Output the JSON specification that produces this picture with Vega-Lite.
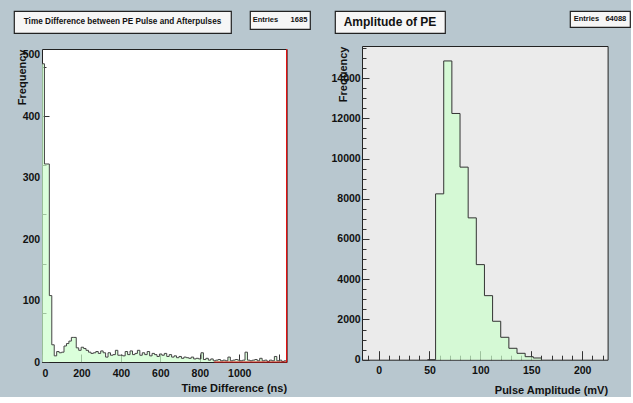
{
  "$schema": "https://vega.github.io/schema/vega-lite/v6.json",
  "background": "#b8c7cf",
  "padding": {"left": 13, "top": 10, "right": 0, "bottom": 0},
  "spacing": 20,
  "config": {
    "font": "Liberation Sans",
    "view": {"stroke": "#222"},
    "axis": {
      "labelFont": "Liberation Sans", "labelFontWeight": "bold", "labelFontSize": 10.5, "labelColor": "#111",
      "titleFont": "Liberation Sans", "titleFontWeight": "bold", "titleFontSize": 11, "titleColor": "#111",
      "tickColor": "#333", "grid": false, "domain": false, "labelOverlap": false, "minExtent": 0
    }
  },
  "datasets": {
    "timeHist": [
      {"lo": 0, "count": 485}, {"lo": 12.4, "count": 322}, {"lo": 24.8, "count": 322}, {"lo": 37.2, "count": 108},
      {"lo": 49.6, "count": 28}, {"lo": 62, "count": 10}, {"lo": 74.4, "count": 17}, {"lo": 86.8, "count": 15},
      {"lo": 99.2, "count": 16}, {"lo": 111.6, "count": 26}, {"lo": 124, "count": 30}, {"lo": 136.4, "count": 34},
      {"lo": 148.8, "count": 40}, {"lo": 161.2, "count": 40}, {"lo": 173.6, "count": 23}, {"lo": 186, "count": 19},
      {"lo": 198.4, "count": 24}, {"lo": 210.8, "count": 22}, {"lo": 223.2, "count": 19}, {"lo": 235.6, "count": 16},
      {"lo": 248, "count": 14}, {"lo": 260.4, "count": 15}, {"lo": 272.8, "count": 17}, {"lo": 285.2, "count": 14},
      {"lo": 297.6, "count": 18}, {"lo": 310, "count": 15}, {"lo": 322.4, "count": 8}, {"lo": 334.8, "count": 15},
      {"lo": 347.2, "count": 11}, {"lo": 359.6, "count": 12}, {"lo": 372, "count": 19}, {"lo": 384.4, "count": 11},
      {"lo": 396.8, "count": 11}, {"lo": 409.2, "count": 10}, {"lo": 421.6, "count": 17}, {"lo": 434, "count": 12},
      {"lo": 446.4, "count": 18}, {"lo": 458.8, "count": 12}, {"lo": 471.2, "count": 14}, {"lo": 483.6, "count": 19},
      {"lo": 496, "count": 11}, {"lo": 508.4, "count": 15}, {"lo": 520.8, "count": 12}, {"lo": 533.2, "count": 17},
      {"lo": 545.6, "count": 10}, {"lo": 558, "count": 14}, {"lo": 570.4, "count": 12}, {"lo": 582.8, "count": 9},
      {"lo": 595.2, "count": 13}, {"lo": 607.6, "count": 11}, {"lo": 620, "count": 14}, {"lo": 632.4, "count": 9},
      {"lo": 644.8, "count": 12}, {"lo": 657.2, "count": 8}, {"lo": 669.6, "count": 10}, {"lo": 682, "count": 7},
      {"lo": 694.4, "count": 9}, {"lo": 706.8, "count": 6}, {"lo": 719.2, "count": 8}, {"lo": 731.6, "count": 7},
      {"lo": 744, "count": 6}, {"lo": 756.4, "count": 8}, {"lo": 768.8, "count": 5}, {"lo": 781.2, "count": 6},
      {"lo": 793.6, "count": 5}, {"lo": 806, "count": 15}, {"lo": 818.4, "count": 4}, {"lo": 830.8, "count": 6},
      {"lo": 843.2, "count": 3}, {"lo": 855.6, "count": 5}, {"lo": 868, "count": 2}, {"lo": 880.4, "count": 3},
      {"lo": 892.8, "count": 4}, {"lo": 905.2, "count": 2}, {"lo": 917.6, "count": 3}, {"lo": 930, "count": 2},
      {"lo": 942.4, "count": 8}, {"lo": 954.8, "count": 2}, {"lo": 967.2, "count": 3}, {"lo": 979.6, "count": 4},
      {"lo": 992, "count": 3}, {"lo": 1004.4, "count": 2}, {"lo": 1016.8, "count": 3}, {"lo": 1029.2, "count": 16},
      {"lo": 1041.6, "count": 3}, {"lo": 1054, "count": 2}, {"lo": 1066.4, "count": 3}, {"lo": 1078.8, "count": 4},
      {"lo": 1091.2, "count": 2}, {"lo": 1103.6, "count": 6}, {"lo": 1116, "count": 2}, {"lo": 1128.4, "count": 3},
      {"lo": 1140.8, "count": 1}, {"lo": 1153.2, "count": 3}, {"lo": 1165.6, "count": 2}, {"lo": 1178, "count": 9},
      {"lo": 1190.4, "count": 2}, {"lo": 1202.8, "count": 3}, {"lo": 1215.2, "count": 1}, {"lo": 1227.6, "count": 2},
      {"lo": 1240, "count": 0}
    ],
    "redLine": [
      {"x": 873, "y": 0}, {"x": 1240, "y": 0}, {"x": 1240, "y": 509}
    ],
    "ampHist": [
      {"lo": 48, "count": 0}, {"lo": 56, "count": 8244}, {"lo": 64, "count": 14850}, {"lo": 72, "count": 12239},
      {"lo": 80, "count": 9572}, {"lo": 88, "count": 7050}, {"lo": 96, "count": 4726}, {"lo": 104, "count": 3184},
      {"lo": 112, "count": 1910}, {"lo": 120, "count": 1114}, {"lo": 128, "count": 567}, {"lo": 136, "count": 318},
      {"lo": 144, "count": 150}, {"lo": 152, "count": 85}, {"lo": 160, "count": 0}
    ]
  },
  "hconcat": [
    {
      "concat": [
        {
          "hconcat": [
            {
              "width": 217, "height": 22,
              "view": {"fill": "#f6f6f6", "stroke": "#222", "strokeWidth": 1.2},
              "data": {"values": [{"label": "Time Difference between PE Pulse and Afterpulses"}]},
              "mark": {"type": "text", "font": "Liberation Sans", "fontWeight": "bold", "fontSize": 8.2, "color": "#111"},
              "encoding": {"text": {"field": "label", "type": "nominal"}}
            },
            {
              "width": 60, "height": 18,
              "view": {"fill": "#f6f6f6", "stroke": "#222", "strokeWidth": 1.2},
              "data": {"values": [{"label": "Entries\u00a0\u00a0\u00a0\u00a0\u00a0\u00a01685"}]},
              "mark": {"type": "text", "font": "Liberation Sans", "fontWeight": "bold", "fontSize": 7.5, "color": "#111"},
              "encoding": {"text": {"field": "label", "type": "nominal"}}
            }
          ],
          "spacing": 19,
          "bounds": "flush"
        },
        {
          "hconcat": [
            {
              "width": 27.7, "height": 313,
              "view": {"stroke": null, "fill": null},
              "data": {"name": "timeHist"},
              "mark": {"type": "point", "opacity": 0},
              "encoding": {
                "y": {"field": "count", "type": "quantitative", "scale": {"domain": [0, 509], "nice": false},
                  "axis": {"orient": "left", "offset": -27.7, "title": "Frequency", "titleX": -16, "titleY": 0, "titleAngle": -90,
                    "titleAlign": "right", "titleBaseline": "alphabetic",
                    "values": [0, 100, 200, 300, 400, 500], "ticks": false, "labelPadding": 2}}
              }
            },
            {
              "width": 244.6, "height": 313,
              "view": {"fill": "white", "stroke": "#222"},
              "layer": [
                {
                  "data": {"name": "timeHist"},
                  "mark": {"type": "area", "interpolate": "step-after", "fill": "#ccffcc", "line": {"stroke": "#444", "strokeWidth": 1}},
                  "encoding": {
                    "x": {"field": "lo", "type": "quantitative", "scale": {"domain": [0, 1240], "nice": false, "zero": false},
                      "axis": {"title": "Time Difference (ns)", "titleAnchor": "end", "titlePadding": 4, "format": "d",
                        "values": [0,50,100,150,200,250,300,350,400,450,500,550,600,650,700,750,800,850,900,950,1000,1050,1100,1150,1200],
                        "labelExpr": "datum.value % 200 === 0 && datum.value <= 1000 ? datum.label : ''",
                        "tickSize": {"condition": {"test": "datum.value % 200 === 0", "value": -8}, "value": -4},
                        "labelPadding": 14}},
                    "y": {"field": "count", "type": "quantitative", "scale": {"domain": [0, 509], "nice": false},
                      "axis": {"title": null, "labels": false,
                        "values": [0,20,40,60,80,100,120,140,160,180,200,220,240,260,280,300,320,340,360,380,400,420,440,460,480,500],
                        "tickSize": {"condition": {"test": "datum.value % 100 === 0", "value": -7}, "value": -4}}}
                  }
                },
                {
                  "data": {"name": "redLine"},
                  "mark": {"type": "line", "color": "#e01010", "strokeWidth": 1.2},
                  "encoding": {
                    "x": {"field": "x", "type": "quantitative"},
                    "y": {"field": "y", "type": "quantitative"},
                    "order": {"value": null}
                  }
                }
              ]
            }
          ],
          "spacing": 0,
          "bounds": "flush"
        }
      ],
      "columns": 1,
      "spacing": 12
    },
    {
      "concat": [
        {
          "hconcat": [
            {
              "width": 110, "height": 22,
              "view": {"fill": "#f6f6f6", "stroke": "#222", "strokeWidth": 1.2},
              "data": {"values": [{"label": "Amplitude of PE"}]},
              "mark": {"type": "text", "font": "Liberation Sans", "fontWeight": "bold", "fontSize": 12, "color": "#111"},
              "encoding": {"text": {"field": "label", "type": "nominal"}}
            },
            {
              "width": 60, "height": 16,
              "view": {"fill": "#f6f6f6", "stroke": "#222", "strokeWidth": 1.2},
              "data": {"values": [{"label": "Entries\u00a0\u00a0\u00a064088"}]},
              "mark": {"type": "text", "font": "Liberation Sans", "fontWeight": "bold", "fontSize": 7.5, "color": "#111"},
              "encoding": {"text": {"field": "label", "type": "nominal"}}
            }
          ],
          "spacing": 125,
          "bounds": "flush"
        },
        {
          "hconcat": [
            {
              "width": 26.7, "height": 313.7,
              "view": {"stroke": null, "fill": null},
              "data": {"name": "ampHist"},
              "mark": {"type": "point", "opacity": 0},
              "encoding": {
                "y": {"field": "count", "type": "quantitative", "scale": {"domain": [0, 15593], "nice": false},
                  "axis": {"orient": "left", "offset": -26.7, "title": "Frequency", "titleX": -15, "titleY": 0, "titleAngle": -90,
                    "titleAlign": "right", "titleBaseline": "alphabetic", "format": "d",
                    "values": [0, 2000, 4000, 6000, 8000, 10000, 12000, 14000], "ticks": false, "labelPadding": 1.5}}
              }
            },
            {
              "width": 245.6, "height": 313.7,
              "view": {"fill": "#ebebeb", "stroke": "#222"},
              "layer": [
                {
                  "data": {"name": "ampHist"},
                  "mark": {"type": "area", "interpolate": "step-after", "fill": "#ccffcc", "line": {"stroke": "#333", "strokeWidth": 1}},
                  "encoding": {
                    "x": {"field": "lo", "type": "quantitative", "scale": {"domain": [-16.3, 225], "nice": false, "zero": false},
                      "axis": {"title": "Pulse Amplitude (mV)", "titleAnchor": "end", "titlePadding": 4, "format": "d",
                        "values": [-10,0,10,20,30,40,50,60,70,80,90,100,110,120,130,140,150,160,170,180,190,200,210,220],
                        "labelExpr": "datum.value % 50 === 0 ? datum.label : ''",
                        "tickSize": {"condition": {"test": "datum.value % 50 === 0", "value": -9}, "value": -4.5},
                        "labelPadding": 15}},
                    "y": {"field": "count", "type": "quantitative", "scale": {"domain": [0, 15593], "nice": false},
                      "axis": {"title": null, "labels": false,
                        "values": [0,500,1000,1500,2000,2500,3000,3500,4000,4500,5000,5500,6000,6500,7000,7500,8000,8500,9000,9500,10000,10500,11000,11500,12000,12500,13000,13500,14000,14500,15000,15500],
                        "tickSize": {"condition": {"test": "datum.value % 2000 === 0", "value": -7}, "value": -4}}}
                  }
                }
              ]
            }
          ],
          "spacing": 0,
          "bounds": "flush"
        }
      ],
      "columns": 1,
      "spacing": 11
    }
  ]
}
